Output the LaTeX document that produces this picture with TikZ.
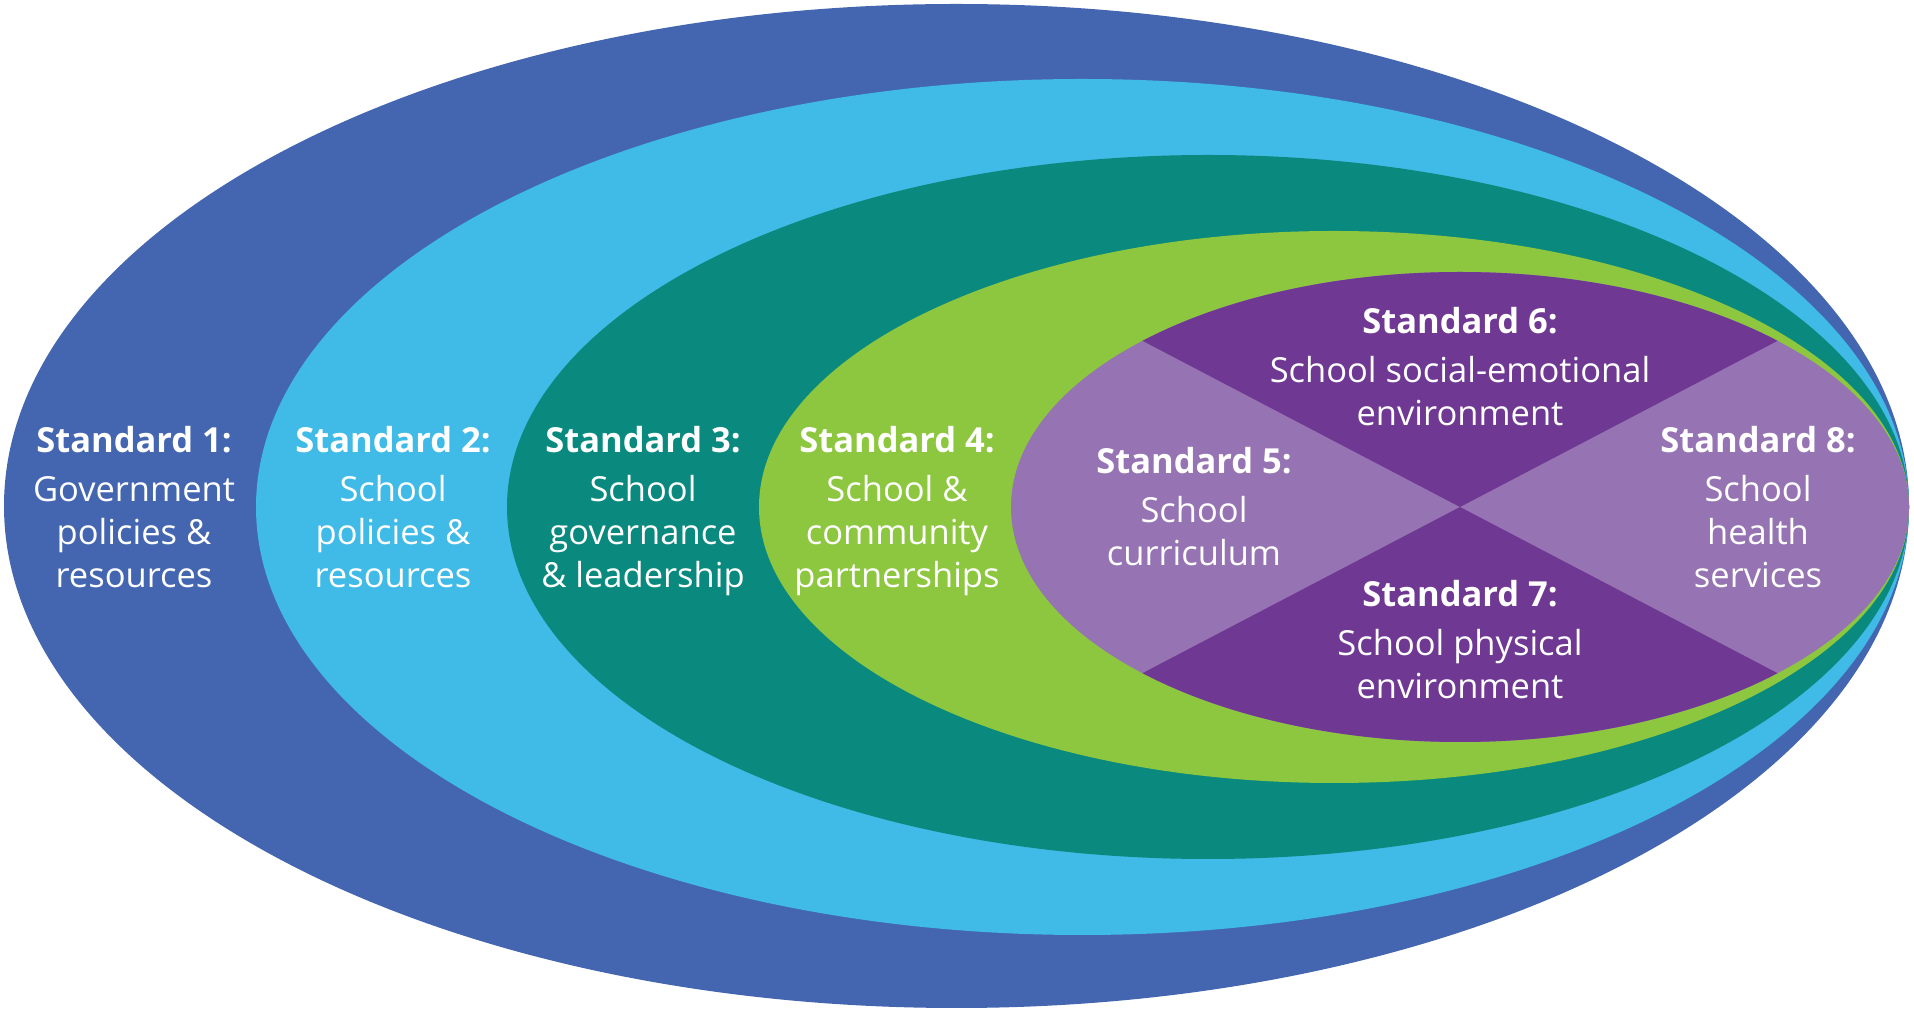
\documentclass[tikz,border=0pt]{standalone}
\usepackage{fontspec}
\setmainfont{Open Sans}
\usepackage{xcolor}
\usepackage{tikz}

\definecolor{stdblue}{RGB}{68,102,176}
\definecolor{stdsky}{RGB}{64,186,230}
\definecolor{stdteal}{RGB}{10,138,126}
\definecolor{stdgreen}{RGB}{141,198,63}
\definecolor{stdplum}{RGB}{111,56,147}
\definecolor{stdlilac}{RGB}{150,115,178}

\begin{document}
\begin{tikzpicture}[x=1pt,y=1pt,
    stdtext/.style={text=white, align=center, inner sep=0pt,
        font=\fontsize{34.5}{43}\selectfont}]
    \useasboundingbox (0,0) rectangle (1914,1009);

    % rings, from the outside in
    \fill[stdblue]  (956.5,503) ellipse [x radius=952.5, y radius=502];
    \fill[stdsky]   (1082.5,502) ellipse [x radius=826.5, y radius=428];
    \fill[stdteal]  (1208,502) ellipse [x radius=701, y radius=352];
    \fill[stdgreen] (1334,502) ellipse [x radius=575, y radius=276];

    % the inner cross
    \coordinate (mid) at (1460,502);
    \fill[stdlilac] (mid) ellipse [x radius=449, y radius=235];
    \fill[stdplum] (mid) -- ++(45:449 and 235)
        arc [start angle=45, end angle=135, x radius=449, y radius=235] -- cycle;
    \fill[stdplum] (mid) -- ++(225:449 and 235)
        arc [start angle=225, end angle=315, x radius=449, y radius=235] -- cycle;

    \node[stdtext] (S1) at (134,502) {\textbf{Standard 1:}\\[6pt]Government\\policies \&\\resources};
    \node[stdtext] (S2) at (393,502) {\textbf{Standard 2:}\\[6pt]School\\policies \&\\resources};
    \node[stdtext] (S3) at (643,498) {\textbf{Standard 3:}\\[6pt]School\\governance\\\& leadership};
    \node[stdtext] (S4) at (897,498) {\textbf{Standard 4:}\\[6pt]School \&\\community\\partnerships};
    \node[stdtext] (S5) at (1194,502) {\textbf{Standard 5:}\\[6pt]School\\curriculum};
    \node[stdtext] (S6) at (1460,642) {\textbf{Standard 6:}\\[6pt]School social-emotional\\environment};
    \node[stdtext] (S7) at (1460,369.5) {\textbf{Standard 7:}\\[6pt]School physical\\environment};
    \node[stdtext] (S8) at (1758,502) {\textbf{Standard 8:}\\[6pt]School\\health\\services};
\end{tikzpicture}
\end{document}
